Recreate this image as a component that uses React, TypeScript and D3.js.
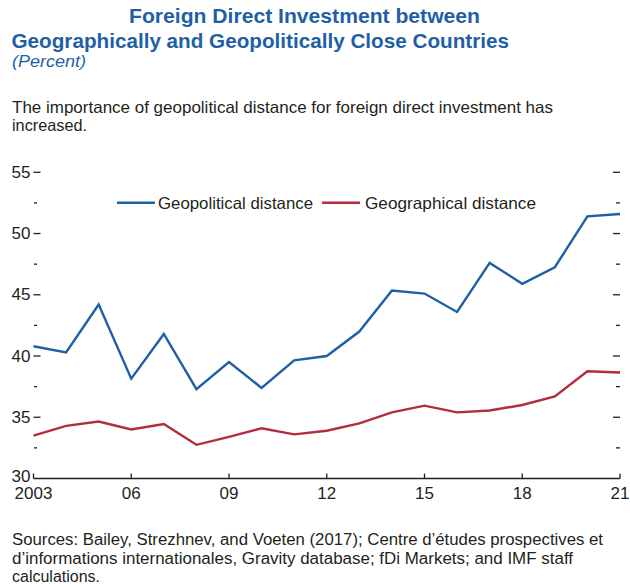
import React from 'react';
import * as d3 from 'd3';

const years = [2003, 2004, 2005, 2006, 2007, 2008, 2009, 2010, 2011, 2012, 2013, 2014, 2015, 2016, 2017, 2018, 2019, 2020, 2021];
const geopolitical = [40.8, 40.3, 44.2, 38.15, 41.8, 37.3, 39.5, 37.4, 39.65, 40.0, 42.0, 45.35, 45.1, 43.6, 47.6, 45.9, 47.25, 51.4, 51.6];
const geographical = [33.5, 34.3, 34.65, 34.0, 34.45, 32.75, 33.4, 34.1, 33.6, 33.9, 34.5, 35.4, 35.95, 35.4, 35.55, 36.0, 36.7, 38.75, 38.65];
const xTickYears = [2003, 2006, 2009, 2012, 2015, 2018, 2021];
const xTickLabels = ['2003', '06', '09', '12', '15', '18', '21'];
const yMajorTicks = [30, 35, 40, 45, 50, 55];
const yMinorTicks = [32.5, 37.5, 42.5, 47.5, 52.5];
const seriesNames = ['Geopolitical distance', 'Geographical distance'];

const BLUE = '#1f5fa6';
const RED = '#b22d3f';
const TEXT = '#231f20';
const FONT = '"Liberation Sans", Arial, sans-serif';
const TITLE_FONT = '"Liberation Sans Narrow", "Liberation Sans", Arial, sans-serif';
const FS = 16.5;

export default function App() {
  const x = d3.scaleLinear().domain([2003, 2021]).range([33.5, 620]);
  const y = d3.scaleLinear().domain([30, 55]).range([478.5, 172.3]);
  const line = d3
    .line<number>()
    .x((_, i) => x(years[i]))
    .y((d) => y(d));

  return (
    <>
      <style>{`body{margin:0}`}</style>
      <svg width={630} height={584} style={{ display: 'block', fontFamily: FONT }}>
        <rect width={630} height={584} fill="#fff" />
        {/* Title */}
        <text x={129} y={23} fill={BLUE} fontFamily={TITLE_FONT} fontWeight="bold" fontSize={21} textLength={351} lengthAdjust="spacingAndGlyphs">
          Foreign Direct Investment between
        </text>
        <text x={11.5} y={47.5} fill={BLUE} fontFamily={TITLE_FONT} fontWeight="bold" fontSize={21} textLength={497.5} lengthAdjust="spacingAndGlyphs">
          Geographically and Geopolitically Close Countries
        </text>
        <text x={12} y={67} fill={BLUE} fontStyle="italic" fontSize={16} textLength={74} lengthAdjust="spacingAndGlyphs">
          (Percent)
        </text>
        <text x={12} y={113} fill={TEXT} fontSize={FS} textLength={541} lengthAdjust="spacingAndGlyphs">
          The importance of geopolitical distance for foreign direct investment has
        </text>
        <text x={12} y={131} fill={TEXT} fontSize={FS} textLength={75} lengthAdjust="spacingAndGlyphs">
          increased.
        </text>

        {/* Y ticks left */}
        {yMajorTicks.map((t) => (
          <g key={'yl' + t}>
            {t !== 30 && <line x1={33.5} x2={40.5} y1={y(t)} y2={y(t)} stroke={TEXT} strokeWidth={1.3} />}
            <text x={30.5} y={y(t) + (t === 30 ? 3 : 5.5)} textAnchor="end" fill={TEXT} fontSize={17}>
              {t}
            </text>
          </g>
        ))}
        {yMinorTicks.map((t) => (
          <line key={'ylm' + t} x1={34} x2={37} y1={y(t)} y2={y(t)} stroke={TEXT} strokeWidth={1.3} />
        ))}
        {/* Y ticks right */}
        {yMajorTicks.filter((t) => t !== 30).map((t) => (
          <line key={'yr' + t} x1={613} x2={620} y1={y(t)} y2={y(t)} stroke={TEXT} strokeWidth={1.3} />
        ))}
        {yMinorTicks.map((t) => (
          <line key={'yrm' + t} x1={616} x2={620} y1={y(t)} y2={y(t)} stroke={TEXT} strokeWidth={1.3} />
        ))}

        {/* X axis */}
        <line x1={33.5} x2={620} y1={y(30)} y2={y(30)} stroke={TEXT} strokeWidth={1.3} />
        {xTickYears.map((yr, i) => (
          <g key={'x' + yr}>
            <line x1={x(yr)} x2={x(yr)} y1={y(30)} y2={y(30) - 5} stroke={TEXT} strokeWidth={1.3} />
            <text x={x(yr)} y={499} textAnchor="middle" fill={TEXT} fontSize={17}>
              {xTickLabels[i]}
            </text>
          </g>
        ))}

        {/* Lines */}
        <path d={line(geopolitical) || ''} fill="none" stroke={BLUE} strokeWidth={2.4} strokeLinejoin="miter" />
        <path d={line(geographical) || ''} fill="none" stroke={RED} strokeWidth={2.4} strokeLinejoin="miter" />

        {/* Legend */}
        <line x1={117} x2={155} y1={202.8} y2={202.8} stroke={BLUE} strokeWidth={2.4} />
        <text x={158} y={208.8} fill={TEXT} fontSize={FS} textLength={155} lengthAdjust="spacingAndGlyphs">
          {seriesNames[0]}
        </text>
        <line x1={322} x2={360} y1={202.8} y2={202.8} stroke={RED} strokeWidth={2.4} />
        <text x={365} y={208.8} fill={TEXT} fontSize={FS} textLength={171} lengthAdjust="spacingAndGlyphs">
          {seriesNames[1]}
        </text>

        {/* Sources */}
        <text x={12} y={545} fill={TEXT} fontSize={16} textLength={591} lengthAdjust="spacingAndGlyphs">
          Sources: Bailey, Strezhnev, and Voeten (2017); Centre d’études prospectives et
        </text>
        <text x={12} y={563.5} fill={TEXT} fontSize={16} textLength={561} lengthAdjust="spacingAndGlyphs">
          d’informations internationales, Gravity database; fDi Markets; and IMF staff
        </text>
        <text x={12} y={581.5} fill={TEXT} fontSize={16}>
          calculations.
        </text>
      </svg>
    </>
  );
}
